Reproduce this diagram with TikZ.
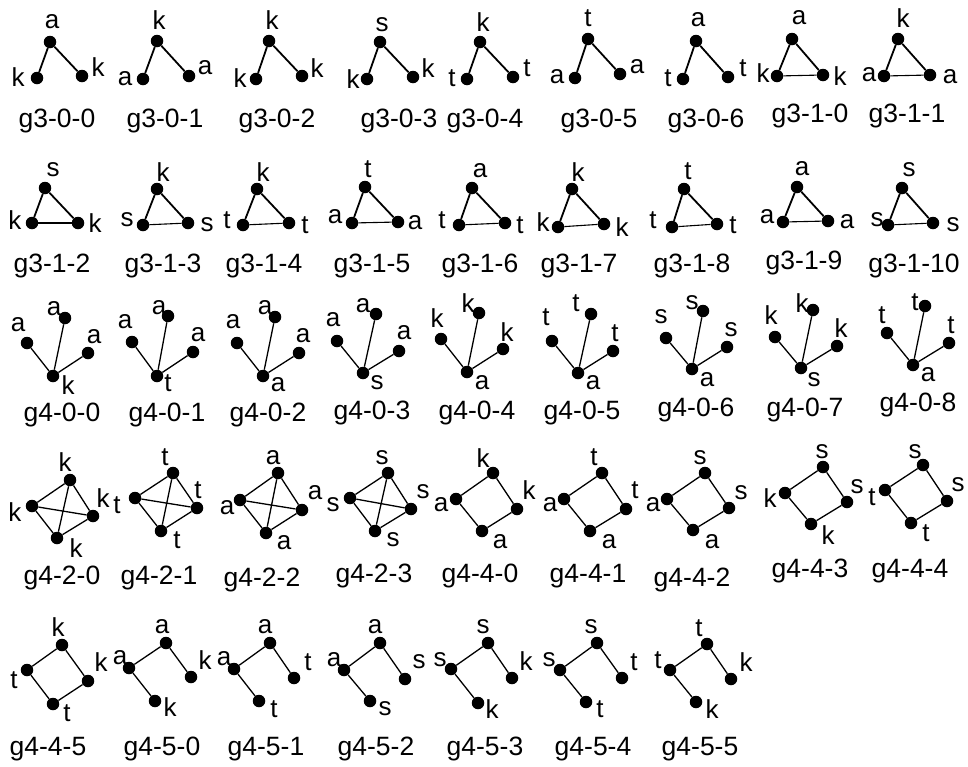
\documentclass[tikz,border=0pt]{standalone}
\usepackage{fontspec}
\setmainfont{Liberation Sans}
\begin{document}
\begin{tikzpicture}[x=1pt,y=-1pt,
  dot/.style={circle,fill=black,inner sep=0pt,minimum size=12.5pt},
  lab/.style={inner sep=0pt,font=\fontsize{26}{30}\selectfont},
  capt/.style={inner sep=0pt,anchor=base,font=\fontsize{26.5}{30}\selectfont},
  thick1/.style={line width=1.8pt},
  thin1/.style={line width=1.1pt},
  mid1/.style={line width=1.3pt}]
\useasboundingbox (0,0) rectangle (968,766);
\newcommand\gv[6]{\node[dot] (#1) at (#2,#3) {}; \node[lab] (#1l) at (#4,#5) {#6};}
% ---- row 1: g3-0-x
\gv{a1}{50}{42}{52}{22}{a}\gv{a2}{37}{78}{18}{77}{k}\gv{a3}{82}{76}{98}{67}{k}
\draw[thick1] (a2)--(a1)--(a3); \node[capt] (ca) at (57,127) {g3-0-0};
\gv{b1}{157}{41}{159}{20}{k}\gv{b2}{143}{79}{125}{79}{a}\gv{b3}{189}{76}{205}{68}{a}
\draw[thick1] (b2)--(b1)--(b3); \node[capt] (cb) at (165,127) {g3-0-1};
\gv{c1}{269}{41}{272}{20}{k}\gv{c2}{256}{79}{240}{78}{k}\gv{c3}{302}{76}{317}{68}{k}
\draw[thick1] (c2)--(c1)--(c3); \node[capt] (cc) at (277,127) {g3-0-2};
\gv{d1}{380}{42}{382}{25}{s}\gv{d2}{367}{79}{353}{79}{k}\gv{d3}{413}{77}{428}{68}{k}
\draw[thick1] (d2)--(d1)--(d3); \node[capt] (cd) at (399,127) {g3-0-3};
\gv{e1}{480}{42}{483}{22}{k}\gv{e2}{467}{79}{452}{78}{t}\gv{e3}{513}{77}{527}{68}{t}
\draw[thick1] (e2)--(e1)--(e3); \node[capt] (ce) at (485,127) {g3-0-4};
\gv{f1}{588}{39}{588}{18}{t}\gv{f2}{575}{78}{557}{77}{a}\gv{f3}{620}{74}{637}{67}{a}
\draw[thick1] (f2)--(f1)--(f3); \node[capt] (cf) at (599,127) {g3-0-5};
\gv{g1}{696}{41}{698}{20}{a}\gv{g2}{683}{79}{668}{78}{t}\gv{g3}{728}{77}{743}{68}{t}
\draw[thick1] (g2)--(g1)--(g3); \node[capt] (cg) at (706,127) {g3-0-6};
\gv{h1}{792}{39}{799}{18}{a}\gv{h2}{777}{76}{763}{73}{k}\gv{h3}{823}{75}{840}{76}{k}
\draw[thick1] (h2)--(h1)--(h3); \draw[thin1] (h2)--(h3); \node[capt] (ch) at (810,122) {g3-1-0};
\gv{i1}{898}{39}{903}{18}{k}\gv{i2}{884}{76}{869}{75}{a}\gv{i3}{930}{75}{950}{77}{a}
\draw[thick1] (i2)--(i1)--(i3); \draw[thin1] (i2)--(i3); \node[capt] (ci) at (907,122) {g3-1-1};
% ---- row 2: triangles
\gv{j1}{45}{188}{53}{170}{s}\gv{j2}{32}{223}{15}{220}{k}\gv{j3}{78}{223}{95}{223}{k}
\draw[thick1] (j2)--(j1)--(j3); \draw[thin1] (j2)--(j3); \node[capt] (cj) at (52,272) {g3-1-2};
\gv{k1}{157}{189}{163}{172}{k}\gv{k2}{143}{225}{127}{220}{s}\gv{k3}{188}{223}{207}{225}{s}
\draw[thick1] (k2)--(k1)--(k3); \draw[thin1] (k2)--(k3); \node[capt] (ck) at (163,272) {g3-1-3};
\gv{l1}{257}{189}{263}{172}{k}\gv{l2}{243}{225}{227}{220}{t}\gv{l3}{289}{223}{305}{225}{t}
\draw[thick1] (l2)--(l1)--(l3); \draw[thin1] (l2)--(l3); \node[capt] (cl) at (264,272) {g3-1-4};
\gv{m1}{365}{187}{368}{169}{t}\gv{m2}{352}{223}{335}{217}{a}\gv{m3}{398}{222}{415}{223}{a}
\draw[thick1] (m2)--(m1)--(m3); \draw[thin1] (m2)--(m3); \node[capt] (cm) at (372,272) {g3-1-5};
\gv{n1}{472}{188}{480}{171}{a}\gv{n2}{459}{225}{442}{220}{t}\gv{n3}{505}{223}{520}{225}{t}
\draw[thick1] (n2)--(n1)--(n3); \draw[thin1] (n2)--(n3); \node[capt] (cn) at (480,272) {g3-1-6};
\gv{o1}{572}{189}{578}{172}{k}\gv{o2}{558}{227}{543}{222}{k}\gv{o3}{604}{224}{622}{227}{k}
\draw[thick1] (o2)--(o1)--(o3); \draw[thin1] (o2)--(o3); \node[capt] (co) at (579,272) {g3-1-7};
\gv{p1}{684}{189}{688}{171}{t}\gv{p2}{672}{227}{653}{220}{t}\gv{p3}{717}{224}{733}{225}{t}
\draw[thick1] (p2)--(p1)--(p3); \draw[thin1] (p2)--(p3); \node[capt] (cp) at (692,272) {g3-1-8};
\gv{q1}{797}{187}{802}{169}{a}\gv{q2}{783}{222}{767}{217}{a}\gv{q3}{828}{221}{847}{222}{a}
\draw[thick1] (q2)--(q1)--(q3); \draw[thin1] (q2)--(q3); \node[capt] (cq) at (804,269) {g3-1-9};
\gv{r1}{902}{188}{909}{170}{s}\gv{r2}{888}{225}{877}{220}{s}\gv{r3}{933}{223}{953}{225}{s}
\draw[thick1] (r2)--(r1)--(r3); \draw[thin1] (r2)--(r3); \node[capt] (cr) at (914,272) {g3-1-10};
% ---- row 3: stars (B, L, T, R)
\gv{sb}{53}{376}{68}{385}{k}\gv{sl}{27}{343}{18}{325}{a}\gv{st}{65}{318}{54}{309}{a}\gv{sr}{88}{353}{94}{337}{a}
\draw[mid1] (sb)--(sl) (sb)--(st) (sb)--(sr); \node[capt] (cs) at (62,421) {g4-0-0};
\gv{tb}{157}{376}{168}{383}{t}\gv{tl}{132}{342}{125}{322}{a}\gv{tt}{168}{316}{159}{308}{a}\gv{tr}{193}{352}{198}{335}{a}
\draw[mid1] (tb)--(tl) (tb)--(tt) (tb)--(tr); \node[capt] (ct) at (167,421) {g4-0-1};
\gv{ub}{263}{376}{278}{385}{a}\gv{ul}{237}{343}{233}{322}{a}\gv{ut}{275}{317}{265}{308}{a}\gv{ur}{299}{353}{303}{336}{a}
\draw[mid1] (ub)--(ul) (ub)--(ut) (ub)--(ur); \node[capt] (cu) at (268,421) {g4-0-2};
\gv{vb}{363}{373}{377}{383}{s}\gv{vl}{337}{341}{333}{320}{a}\gv{vt}{376}{314}{363}{306}{a}\gv{vr}{399}{351}{404}{333}{a}
\draw[mid1] (vb)--(vl) (vb)--(vt) (vb)--(vr); \node[capt] (cv) at (372,419) {g4-0-3};
\gv{wb}{467}{372}{482}{383}{a}\gv{wl}{441}{339}{437}{318}{k}\gv{wt}{479}{313}{468}{303}{k}\gv{wr}{503}{349}{507}{332}{k}
\draw[mid1] (wb)--(wl) (wb)--(wt) (wb)--(wr); \node[capt] (cw) at (477,419) {g4-0-4};
\gv{xb}{578}{373}{593}{383}{a}\gv{xl}{552}{341}{546}{317}{t}\gv{xt}{591}{314}{576}{303}{t}\gv{xr}{613}{351}{615}{333}{t}
\draw[mid1] (xb)--(xl) (xb)--(xt) (xb)--(xr); \node[capt] (cx) at (582,419) {g4-0-5};
\gv{yb}{692}{369}{707}{380}{a}\gv{yl}{666}{338}{661}{317}{s}\gv{yt}{703}{311}{692}{303}{s}\gv{yr}{727}{347}{731}{330}{s}
\draw[mid1] (yb)--(yl) (yb)--(yt) (yb)--(yr); \node[capt] (cy) at (696,416) {g4-0-6};
\gv{zb}{801}{368}{814}{380}{s}\gv{zl}{775}{337}{771}{315}{k}\gv{zt}{813}{310}{802}{303}{k}\gv{zr}{837}{346}{841}{328}{k}
\draw[mid1] (zb)--(zl) (zb)--(zt) (zb)--(zr); \node[capt] (cz) at (805,416) {g4-0-7};
\gv{Ab}{913}{365}{928}{375}{a}\gv{Al}{887}{333}{882}{315}{t}\gv{At}{925}{306}{915}{302}{t}\gv{Ar}{949}{343}{951}{325}{t}
\draw[mid1] (Ab)--(Al) (Ab)--(At) (Ab)--(Ar); \node[capt] (cA) at (918,411) {g4-0-8};
% ---- row 4: K4 (T, L, R, B)
\gv{Bt}{70}{480}{65}{462}{k}\gv{Bl}{32}{506}{15}{512}{k}\gv{Br}{93}{516}{103}{498}{k}\gv{Bb}{57}{538}{76}{548}{k}
\draw[mid1] (Bt)--(Bl)--(Bb)--(Br)--(Bt)--(Bb) (Bl)--(Br); \node[capt] (cB) at (62,584) {g4-2-0};
\gv{Ct}{173}{473}{165}{457}{t}\gv{Cl}{135}{498}{117}{505}{t}\gv{Cr}{197}{508}{198}{490}{t}\gv{Cb}{161}{531}{177}{540}{t}
\draw[mid1] (Ct)--(Cl)--(Cb)--(Cr)--(Ct)--(Cb) (Cl)--(Cr); \node[capt] (cC) at (159,584) {g4-2-1};
\gv{Dt}{278}{473}{273}{458}{a}\gv{Dl}{240}{500}{227}{508}{a}\gv{Dr}{302}{510}{315}{493}{a}\gv{Db}{266}{533}{284}{543}{a}
\draw[mid1] (Dt)--(Dl)--(Db)--(Dr)--(Dt)--(Db) (Dl)--(Dr); \node[capt] (cD) at (262,586) {g4-2-2};
\gv{Et}{388}{473}{382}{458}{s}\gv{El}{350}{498}{333}{505}{s}\gv{Er}{411}{509}{423}{492}{s}\gv{Eb}{375}{531}{393}{540}{s}
\draw[mid1] (Et)--(El)--(Eb)--(Er)--(Et)--(Eb) (El)--(Er); \node[capt] (cE) at (374,582) {g4-2-3};
% C4 (L, T, R, B)
\gv{Fl}{456}{499}{441}{505}{a}\gv{Ft}{493}{473}{483}{458}{k}\gv{Fr}{517}{509}{529}{490}{k}\gv{Fb}{482}{531}{500}{542}{a}
\draw[mid1] (Fl)--(Ft)--(Fr)--(Fb)--(Fl); \node[capt] (cF) at (480,582) {g4-4-0};
\gv{Gl}{564}{499}{550}{505}{a}\gv{Gt}{602}{473}{594}{457}{t}\gv{Gr}{626}{509}{635}{490}{t}\gv{Gb}{590}{531}{609}{542}{a}
\draw[mid1] (Gl)--(Gt)--(Gr)--(Gb)--(Gl); \node[capt] (cG) at (588,582) {g4-4-1};
\gv{Hl}{667}{499}{653}{505}{a}\gv{Ht}{705}{473}{700}{458}{s}\gv{Hr}{729}{508}{741}{493}{s}\gv{Hb}{693}{530}{712}{542}{a}
\draw[mid1] (Hl)--(Ht)--(Hr)--(Hb)--(Hl); \node[capt] (cH) at (692,586) {g4-4-2};
\gv{Il}{785}{493}{770}{498}{k}\gv{It}{823}{467}{822}{452}{s}\gv{Ir}{847}{502}{857}{487}{s}\gv{Ib}{811}{524}{828}{535}{k}
\draw[mid1] (Il)--(It)--(Ir)--(Ib)--(Il); \node[capt] (cI) at (810,577) {g4-4-3};
\gv{Jl}{885}{490}{872}{497}{t}\gv{Jt}{923}{465}{915}{452}{s}\gv{Jr}{947}{501}{958}{485}{s}\gv{Jb}{911}{523}{926}{533}{t}
\draw[mid1] (Jl)--(Jt)--(Jr)--(Jb)--(Jl); \node[capt] (cJ) at (910,577) {g4-4-4};
% ---- row 5
\gv{Kt}{62}{645}{58}{627}{k}\gv{Kl}{27}{670}{14}{680}{t}\gv{Kr}{88}{681}{101}{662}{k}\gv{Kb}{53}{704}{67}{713}{t}
\draw[mid1] (Kl)--(Kt)--(Kr)--(Kb)--(Kl); \node[capt] (cK) at (48,755) {g4-4-5};
% paths: B - L - T - R
\gv{Lt}{166}{643}{162}{627}{a}\gv{Ll}{129}{668}{120}{658}{a}\gv{Lr}{191}{677}{205}{660}{k}\gv{Lb}{155}{701}{170}{707}{k}
\draw[mid1] (Lb)--(Ll)--(Lt)--(Lr); \node[capt] (cL) at (162,755) {g4-5-0};
\gv{Mt}{270}{643}{265}{627}{a}\gv{Ml}{234}{669}{224}{659}{a}\gv{Mr}{294}{678}{308}{662}{t}\gv{Mb}{259}{701}{274}{709}{t}
\draw[mid1] (Mb)--(Ml)--(Mt)--(Mr); \node[capt] (cM) at (266,755) {g4-5-1};
\gv{Nt}{380}{643}{375}{627}{a}\gv{Nl}{344}{670}{334}{660}{a}\gv{Nr}{405}{679}{419}{662}{s}\gv{Nb}{370}{701}{385}{709}{s}
\draw[mid1] (Nb)--(Nl)--(Nt)--(Nr); \node[capt] (cN) at (376,755) {g4-5-2};
\gv{Ot}{488}{643}{483}{627}{s}\gv{Ol}{451}{669}{440}{660}{s}\gv{Or}{512}{678}{526}{661}{k}\gv{Ob}{478}{703}{492}{709}{k}
\draw[mid1] (Ob)--(Ol)--(Ot)--(Or); \node[capt] (cO) at (485,755) {g4-5-3};
\gv{Pt}{597}{643}{591}{627}{s}\gv{Pl}{560}{670}{549}{660}{s}\gv{Pr}{622}{678}{634}{662}{t}\gv{Pb}{586}{702}{600}{709}{t}
\draw[mid1] (Pb)--(Pl)--(Pt)--(Pr); \node[capt] (cP) at (593,755) {g4-5-4};
\gv{Qt}{707}{644}{699}{628}{t}\gv{Ql}{670}{670}{658}{660}{t}\gv{Qr}{731}{679}{746}{662}{k}\gv{Qb}{696}{702}{712}{709}{k}
\draw[mid1] (Qb)--(Ql)--(Qt)--(Qr); \node[capt] (cQ) at (700,755) {g4-5-5};
\end{tikzpicture}
\end{document}
